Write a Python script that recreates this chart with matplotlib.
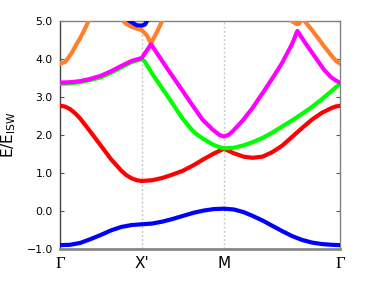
import numpy as np
import matplotlib
matplotlib.use("Agg")
import matplotlib.pyplot as plt

# path: Gamma -> X' -> M -> Gamma  (X'-M same length as Gamma-X', M-Gamma is sqrt(2) longer)
k_ticks = [0.0, 1.0, 2.0, 2.0 + np.sqrt(2)]
k_labels = ["\u0393", "X'", "M", "\u0393"]

# band values
blue_k = [0, 0.125, 0.25, 0.375, 0.5, 0.625, 0.75, 0.875, 1.0,
          1.125, 1.25, 1.375, 1.5, 1.625, 1.75, 1.875, 2.0,
          2.12, 2.24, 2.35, 2.47, 2.59, 2.71, 2.83, 2.95, 3.07, 3.19, 3.31, 3.414]
blue_e = [-0.90, -0.89, -0.84, -0.74, -0.63, -0.51, -0.42, -0.37, -0.35,
          -0.33, -0.28, -0.21, -0.13, -0.05, 0.01, 0.05, 0.06,
          0.04, -0.03, -0.13, -0.25, -0.39, -0.53, -0.66, -0.76, -0.83, -0.87, -0.89, -0.90]

red_k = [0, 0.0625, 0.125, 0.1875, 0.25, 0.375, 0.5, 0.625, 0.75, 0.8125, 0.875, 0.9375, 1.0,
         1.125, 1.25, 1.375, 1.5, 1.625, 1.75, 1.875, 2.0,
         2.12, 2.24, 2.35, 2.47, 2.59, 2.71, 2.83, 2.95, 3.07, 3.19, 3.31, 3.36, 3.414]
red_e = [2.77, 2.75, 2.68, 2.57, 2.43, 2.08, 1.72, 1.36, 1.06, 0.94, 0.86, 0.81, 0.79,
         0.81, 0.87, 0.96, 1.06, 1.20, 1.36, 1.51, 1.64,
         1.52, 1.43, 1.40, 1.43, 1.55, 1.72, 1.95, 2.18, 2.40, 2.58, 2.71, 2.75, 2.77]

green_k = [0, 0.125, 0.25, 0.375, 0.5, 0.625, 0.75, 0.875, 1.0,
           1.037, 1.123, 1.247, 1.37, 1.494, 1.56, 1.62, 1.68, 1.741, 1.864, 1.93, 2.0,
           2.108, 2.228, 2.348, 2.467, 2.587, 2.707, 2.827, 2.947, 3.067, 3.187, 3.307, 3.414]
green_e = [3.35, 3.36, 3.39, 3.45, 3.52, 3.64, 3.78, 3.92, 4.00,
           3.93, 3.62, 3.23, 2.84, 2.44, 2.26, 2.11, 2.00, 1.91, 1.75, 1.69, 1.65,
           1.66, 1.72, 1.81, 1.92, 2.06, 2.22, 2.38, 2.55, 2.73, 2.93, 3.15, 3.35]

magenta_k = [0, 0.125, 0.25, 0.375, 0.5, 0.625, 0.75, 0.875, 1.0,
             1.111, 1.247, 1.309, 1.494, 1.617, 1.741, 1.864, 1.947, 2.0,
             2.06, 2.108, 2.228, 2.348, 2.467, 2.587, 2.707, 2.827, 2.895,
             2.983, 3.067, 3.151, 3.223, 3.307, 3.367, 3.414]
magenta_e = [3.38, 3.39, 3.42, 3.48, 3.56, 3.68, 3.82, 3.95, 4.03,
             4.39, 3.95, 3.75, 3.17, 2.78, 2.40, 2.14, 2.00, 1.96,
             2.01, 2.10, 2.38, 2.71, 3.09, 3.48, 3.89, 4.38, 4.74,
             4.45, 4.19, 3.93, 3.71, 3.52, 3.43, 3.38]

orange_k = [0, 0.0625, 0.1, 0.15, 0.2, 0.25, 0.3, 0.35, 0.45,
            0.6, 0.6875, 0.775, 0.8125, 0.875, 0.9375, 1.0, 1.062, 1.111, 1.185, 1.247, 1.35,
            2.0, 2.7, 2.8, 2.827, 2.87, 2.895, 2.92, 2.935, 2.96, 2.983,
            3.067, 3.151, 3.223, 3.307, 3.367, 3.414]
orange_e = [3.88, 3.92, 4.02, 4.18, 4.38, 4.56, 4.77, 5.00, 5.50,
            5.60, 5.35, 5.00, 4.92, 4.85, 4.80, 4.76, 4.62, 4.41, 4.72, 5.00, 5.50,
            6.00, 5.50, 5.10, 5.00, 4.94, 4.92, 4.95, 5.00, 5.05, 5.00,
            4.78, 4.54, 4.33, 4.10, 3.95, 3.88]

bluetop_k = [0.75, 0.85, 0.9375, 1.0, 1.037, 1.062, 1.12]
bluetop_e = [5.20, 5.00, 4.89, 4.88, 4.91, 5.00, 5.20]

fig = plt.figure(figsize=(3.74, 2.81), dpi=100)
ax = fig.add_axes([0.160, 0.114, 0.749, 0.811])

for xk in k_ticks[1:3]:
    ax.axvline(xk, color="#c8c8c8", lw=1.0, ls=(0, (1.5, 1.5)), zorder=1)

lw = 3.0
ax.plot(blue_k, blue_e, color="#0000ff", lw=lw, solid_joinstyle="round", zorder=3)
ax.plot(red_k, red_e, color="#ff0000", lw=lw, solid_joinstyle="round", zorder=3)
ax.plot(green_k, green_e, color="#00ff00", lw=lw, solid_joinstyle="round", zorder=3)
ax.plot(magenta_k, magenta_e, color="#ff00ff", lw=lw, solid_joinstyle="round", zorder=4)
ax.plot(orange_k, orange_e, color="#ff7f2a", lw=lw, solid_joinstyle="round", zorder=3)
ax.plot(bluetop_k, bluetop_e, color="#0000ff", lw=lw, solid_joinstyle="round", zorder=3)

ax.set_xlim(k_ticks[0], k_ticks[-1])
ax.set_ylim(-1.0, 5.0)

yt = [-1, 0, 1, 2, 3, 4, 5]
ax.set_yticks(yt)
ax.set_yticklabels([("%.1f" % v).replace("-", "\u2212") for v in yt], fontsize=7.8)
ax.tick_params(axis="y", direction="in", length=3, width=0.8, color="#555555",
               right=True, pad=5)

ax.set_xticks(k_ticks)
ax.set_xticklabels(k_labels, fontsize=11)
ax.tick_params(axis="x", length=0, pad=5)
for i, t in enumerate(ax.get_xticklabels()):
    if k_labels[i] == "\u0393":
        t.set_fontfamily("Liberation Serif")
        t.set_fontsize(12)

for s in ["top", "right"]:
    ax.spines[s].set_color("#808080")
    ax.spines[s].set_linewidth(1.0)
ax.spines["left"].set_color("#444444")
ax.spines["left"].set_linewidth(1.0)
ax.spines["bottom"].set_color("#888888")
ax.spines["bottom"].set_linewidth(2.0)

ax.set_ylabel(r"E/E$_{\rm ISW}$", fontsize=11, labelpad=6)

fig.savefig("out.png", dpi=100)
